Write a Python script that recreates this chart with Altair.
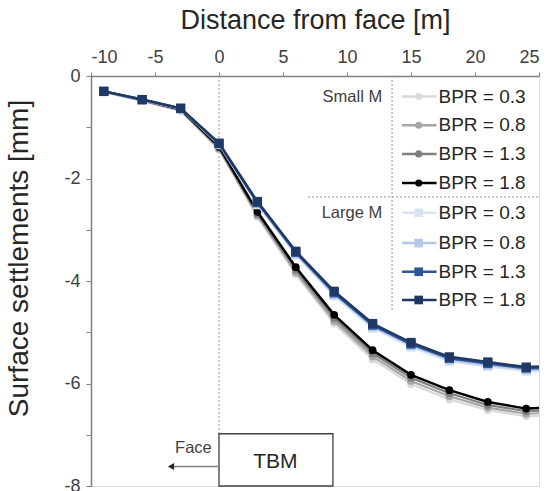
import altair as alt
import pandas as pd

# ---------------- data ----------------
dist = [-9, -6, -3, 0, 3, 6, 9, 12, 15, 18, 21, 24, 25]

series_names = [
    "Small M BPR = 0.3", "Small M BPR = 0.8", "Small M BPR = 1.3", "Small M BPR = 1.8",
    "Large M BPR = 0.3", "Large M BPR = 0.8", "Large M BPR = 1.3", "Large M BPR = 1.8",
]
legend_labels = ["BPR = 0.3", "BPR = 0.8", "BPR = 1.3", "BPR = 1.8"] * 2
series_colors = ["#d9d9d9", "#a6a6a6", "#7f7f7f", "#000000",
                 "#dae3f3", "#b4c7e7", "#2f5597", "#203864"]
series_shapes = ["circle"] * 4 + ["square"] * 4

small_03 = [-0.31, -0.49, -0.68, -1.44, -2.75, -3.87, -4.83, -5.53, -6.01, -6.31, -6.52, -6.64, -6.63]
small_08 = [-0.31, -0.48, -0.67, -1.42, -2.72, -3.83, -4.78, -5.47, -5.95, -6.25, -6.47, -6.59, -6.58]
small_13 = [-0.30, -0.47, -0.66, -1.40, -2.69, -3.78, -4.72, -5.41, -5.89, -6.19, -6.42, -6.54, -6.53]
small_18 = [-0.30, -0.47, -0.65, -1.38, -2.65, -3.73, -4.66, -5.35, -5.83, -6.13, -6.36, -6.49, -6.48]
large_03 = [-0.31, -0.47, -0.64, -1.34, -2.51, -3.49, -4.29, -4.92, -5.29, -5.57, -5.67, -5.76, -5.76]
large_08 = [-0.30, -0.47, -0.64, -1.33, -2.49, -3.47, -4.26, -4.89, -5.26, -5.54, -5.64, -5.73, -5.73]
large_13 = [-0.30, -0.46, -0.63, -1.32, -2.47, -3.44, -4.23, -4.86, -5.23, -5.51, -5.61, -5.70, -5.70]
large_18 = [-0.30, -0.46, -0.63, -1.31, -2.45, -3.42, -4.20, -4.83, -5.20, -5.48, -5.58, -5.68, -5.67]
series_values = [small_03, small_08, small_13, small_18, large_03, large_08, large_13, large_18]

# legend layout (data units)
legend_rows_y = [-0.40, -0.96, -1.52, -2.09, -2.67, -3.26, -3.82, -4.37]
legend_line_x = [14.3, 17.0]
legend_marker_x = 15.6
legend_text_x = 17.15
group_labels = ["Small M", "Large M"]
group_label_y = [-0.40, -2.67]
group_label_x = 12.75

FONT = "Liberation Sans"
TXT = "#404040"

xs = alt.Scale(domain=[-10, 25], nice=False, zero=False)
ys = alt.Scale(domain=[-8, 0], nice=False, zero=False)

x_ticks = [-10 + 2.5 * i for i in range(15)]
y_ticks = [-8, -7, -6, -5, -4, -3, -2, -1, 0]

base_df = pd.DataFrame({"x": [0], "y": [0]})

# axes carrier (invisible)
axes = alt.Chart(base_df).mark_point(opacity=0).encode(
    x=alt.X("x:Q", scale=xs, axis=alt.Axis(
        orient="top", values=x_ticks, title="Distance from face [m]",
        labelExpr="datum.value % 5 == 0 ? '' + datum.value : ''",
        grid=False, tickSize=4, labelPadding=6, titlePadding=14,
        labelFontSize=18, titleFontSize=27, labelFont=FONT, titleFont=FONT,
        labelColor=TXT, titleColor="#262626", titleFontWeight="normal",
        domainColor="#808080", tickColor="#808080", domainWidth=1.5)),
    y=alt.Y("y:Q", scale=ys, axis=alt.Axis(
        values=y_ticks, title="Surface settlements [mm]",
        labelExpr="datum.value % 2 == 0 ? '' + datum.value : ''",
        grid=False, tickSize=5, labelPadding=6, titlePadding=30, titleY=182,
        labelFontSize=18, titleFontSize=28, labelFont=FONT, titleFont=FONT,
        labelColor=TXT, titleColor="#262626", titleFontWeight="normal",
        domainColor="#808080", tickColor="#808080", domainWidth=1.5)),
)

layers = [axes]

# dashed face line
face_df = pd.DataFrame({"x": [0], "y": [0], "y2": [-7]})
layers.append(alt.Chart(face_df).mark_rule(color="#a6a6a6", strokeDash=[2, 2], strokeWidth=1.2).encode(
    x=alt.X("x:Q", scale=xs), y=alt.Y("y:Q", scale=ys), y2="y2:Q"))

# legend separators
sep_v = pd.DataFrame({"x": [13.52], "y": [0], "y2": [-4.57]})
layers.append(alt.Chart(sep_v).mark_rule(color="#a6a6a6", strokeDash=[2, 2], strokeWidth=1.2).encode(
    x=alt.X("x:Q", scale=xs), y=alt.Y("y:Q", scale=ys), y2="y2:Q"))
sep_h = pd.DataFrame({"x": [6.95], "x2": [25], "y": [-2.36]})
layers.append(alt.Chart(sep_h).mark_rule(color="#a6a6a6", strokeDash=[2, 2], strokeWidth=1.2).encode(
    x=alt.X("x:Q", scale=xs), x2="x2:Q", y=alt.Y("y:Q", scale=ys)))

# TBM box
tbm_df = pd.DataFrame({"x": [0], "x2": [8.9], "y": [-6.98], "y2": [-8]})
layers.append(alt.Chart(tbm_df).mark_rect(fill="white", stroke="#404040", strokeWidth=1.3).encode(
    x=alt.X("x:Q", scale=xs), x2="x2:Q", y=alt.Y("y:Q", scale=ys), y2="y2:Q"))
tbm_txt = pd.DataFrame({"x": [4.4], "y": [-7.53], "t": ["TBM"]})
layers.append(alt.Chart(tbm_txt).mark_text(font=FONT, fontSize=21, color="#262626").encode(
    x=alt.X("x:Q", scale=xs), y=alt.Y("y:Q", scale=ys), text="t:N"))

# Face arrow
face_txt = pd.DataFrame({"x": [-2.0], "y": [-7.25], "t": ["Face"]})
layers.append(alt.Chart(face_txt).mark_text(font=FONT, fontSize=16.5, color=TXT).encode(
    x=alt.X("x:Q", scale=xs), y=alt.Y("y:Q", scale=ys), text="t:N"))
arrow_df = pd.DataFrame({"x": [-3.6], "x2": [0], "y": [-7.62]})
layers.append(alt.Chart(arrow_df).mark_rule(color="#808080", strokeWidth=1.5).encode(
    x=alt.X("x:Q", scale=xs), x2="x2:Q", y=alt.Y("y:Q", scale=ys)))
head_df = pd.DataFrame({"x": [-3.75], "y": [-7.62]})
layers.append(alt.Chart(head_df).mark_point(shape="triangle-left", filled=True, color="#262626",
                                            size=50, opacity=1).encode(
    x=alt.X("x:Q", scale=xs), y=alt.Y("y:Q", scale=ys)))

# data series
for name, vals, col, shp in zip(series_names, series_values, series_colors, series_shapes):
    df = pd.DataFrame({"x": dist, "y": vals, "s": name})
    strong = col in ("#000000", "#203864", "#2f5597")
    layers.append(alt.Chart(df).mark_line(color=col, strokeWidth=2.5 if strong else 2.2, clip=True).encode(
        x=alt.X("x:Q", scale=xs), y=alt.Y("y:Q", scale=ys)))
    pdf = df[df["x"] <= 24]
    layers.append(alt.Chart(pdf).mark_point(shape=shp, filled=True, color=col, opacity=1,
                                            size=60 if shp == "circle" else 85).encode(
        x=alt.X("x:Q", scale=xs), y=alt.Y("y:Q", scale=ys)))

# custom legend
for name, lab, col, shp, ry in zip(series_names, legend_labels, series_colors, series_shapes, legend_rows_y):
    ldf = pd.DataFrame({"x": [legend_line_x[0]], "x2": [legend_line_x[1]], "y": [ry]})
    layers.append(alt.Chart(ldf).mark_rule(color=col, strokeWidth=2.5).encode(
        x=alt.X("x:Q", scale=xs), x2="x2:Q", y=alt.Y("y:Q", scale=ys)))
    mdf = pd.DataFrame({"x": [legend_marker_x], "y": [ry]})
    layers.append(alt.Chart(mdf).mark_point(shape=shp, filled=True, color=col, opacity=1,
                                            size=50 if shp == "circle" else 75).encode(
        x=alt.X("x:Q", scale=xs), y=alt.Y("y:Q", scale=ys)))
    tdf = pd.DataFrame({"x": [legend_text_x], "y": [ry], "t": [lab]})
    layers.append(alt.Chart(tdf).mark_text(font=FONT, fontSize=19, color="#262626", align="left",
                                           baseline="middle").encode(
        x=alt.X("x:Q", scale=xs), y=alt.Y("y:Q", scale=ys), text="t:N"))

gdf = pd.DataFrame({"x": [group_label_x] * 2, "y": group_label_y, "t": group_labels})
layers.append(alt.Chart(gdf).mark_text(font=FONT, fontSize=16.5, color=TXT, align="right",
                                       baseline="middle").encode(
    x=alt.X("x:Q", scale=xs), y=alt.Y("y:Q", scale=ys), text="t:N"))

chart = alt.layer(*layers).properties(
    width=448, height=410,
    autosize=alt.AutoSizeParams(type="none"),
    padding={"left": 91, "top": 76, "right": 11, "bottom": 5},
).configure_view(stroke="#808080", strokeWidth=1.5).configure(background="white")

chart.save("out.html", embed_options={"renderer": "svg", "actions": False})
